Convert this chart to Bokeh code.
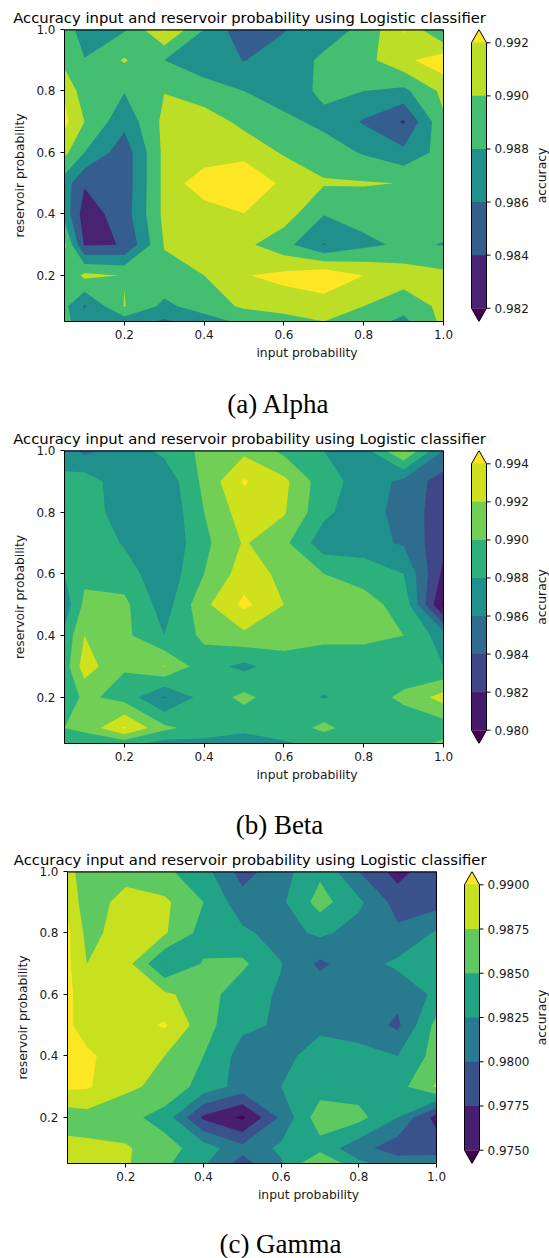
import math
import numpy as np
from bokeh.plotting import figure
from bokeh.layouts import column
from bokeh.models import Range1d, FixedTicker, PrintfTickFormatter, Plot
from bokeh.core.properties import value
from bokeh.palettes import Viridis256
from bokeh.embed import file_html
from bokeh.resources import INLINE

# grid of the sweep (both axes use the same probabilities)
input_prob = [0.05, 0.1, 0.2, 0.3, 0.4, 0.5, 0.6, 0.7, 0.8, 0.9, 1.0]
reservoir_prob = [0.05, 0.1, 0.2, 0.3, 0.4, 0.5, 0.6, 0.7, 0.8, 0.9, 1.0]
prob_ticks = [0.2, 0.4, 0.6, 0.8, 1.0]

# accuracy, one row per reservoir probability (1.0 first, 0.05 last),
# columns follow input_prob
alpha_acc = [
    [0.9893, 0.9868, 0.9878, 0.9922, 0.9880, 0.9845, 0.9859, 0.9870, 0.9885, 0.9921, 0.9875],
    [0.9893, 0.9881, 0.9902, 0.9880, 0.9868, 0.98595, 0.9868, 0.9884, 0.9893, 0.9915, 0.9933],
    [0.9918, 0.9888, 0.9881, 0.98995, 0.9889, 0.9880, 0.9870, 0.9884, 0.9880, 0.9875, 0.9905],
    [0.9925, 0.9900, 0.9866, 0.9905, 0.9910, 0.9895, 0.9885, 0.9875, 0.9858, 0.9838, 0.9897],
    [0.9905, 0.9880, 0.9848, 0.9905, 0.9905, 0.9912, 0.9898, 0.9890, 0.9878, 0.9865, 0.9888],
    [0.9870, 0.9842, 0.9848, 0.9905, 0.9935, 0.9940, 0.9915, 0.9902, 0.99015, 0.98995, 0.9893],
    [0.9872, 0.9830, 0.9850, 0.9905, 0.9908, 0.99195, 0.9910, 0.9881, 0.9888, 0.9890, 0.9890],
    [0.9905, 0.9838, 0.98405, 0.9901, 0.9910, 0.9905, 0.9887, 0.9859, 0.9875, 0.9884, 0.9879],
    [0.9880, 0.9905, 0.9899, 0.9895, 0.9900, 0.9919, 0.9925, 0.9935, 0.9920, 0.9910, 0.9905],
    [0.9885, 0.9858, 0.9901, 0.9875, 0.9890, 0.9903, 0.9910, 0.9910, 0.9900, 0.9888, 0.9905],
    [0.9885, 0.9870, 0.9870, 0.9857, 0.9870, 0.9885, 0.9890, 0.9900, 0.9890, 0.9875, 0.9905],
]

beta_acc = [
    [0.9870, 0.9855, 0.9868, 0.9885, 0.9905, 0.9915, 0.9895, 0.9880, 0.9872, 0.9922, 0.9860],
    [0.9885, 0.9890, 0.9868, 0.9866, 0.9905, 0.9942, 0.9925, 0.9888, 0.9872, 0.9855, 0.9830],
    [0.9885, 0.9895, 0.9866, 0.9862, 0.9900, 0.9930, 0.9922, 0.9885, 0.9866, 0.9855, 0.9826],
    [0.9885, 0.9895, 0.9878, 0.9862, 0.9895, 0.9922, 0.9905, 0.9868, 0.9866, 0.9858, 0.9824],
    [0.9880, 0.9895, 0.9890, 0.9865, 0.9900, 0.9930, 0.9915, 0.9900, 0.9895, 0.9880, 0.9815],
    [0.9868, 0.9905, 0.9905, 0.9870, 0.9915, 0.9945, 0.9920, 0.9910, 0.9905, 0.9895, 0.9795],
    [0.9885, 0.9920, 0.9905, 0.9880, 0.9905, 0.9915, 0.9910, 0.9905, 0.9905, 0.9900, 0.9870],
    [0.9890, 0.9930, 0.9902, 0.9921, 0.9888, 0.9875, 0.9890, 0.9888, 0.9888, 0.9885, 0.9880],
    [0.9885, 0.9905, 0.9892, 0.9858, 0.9888, 0.9905, 0.9888, 0.9879, 0.9888, 0.9905, 0.9928],
    [0.9900, 0.9905, 0.9942, 0.9905, 0.9890, 0.9885, 0.9888, 0.9905, 0.9888, 0.9885, 0.9888],
    [0.9885, 0.9888, 0.9888, 0.9872, 0.9875, 0.9870, 0.9878, 0.9885, 0.9888, 0.9888, 0.9905],
]

gamma_acc = [
    [0.9885, 0.9860, 0.9865, 0.9855, 0.9835, 0.9790, 0.9815, 0.9845, 0.9800, 0.9765, 0.9795],
    [0.9895, 0.9860, 0.9885, 0.9880, 0.9850, 0.9810, 0.9820, 0.9860, 0.9830, 0.9790, 0.9790],
    [0.9905, 0.9868, 0.9885, 0.9878, 0.9840, 0.9830, 0.9815, 0.9830, 0.9815, 0.9805, 0.9828],
    [0.9905, 0.9875, 0.9885, 0.9824, 0.9852, 0.9855, 0.9826, 0.9795, 0.9815, 0.9830, 0.9830],
    [0.9905, 0.9888, 0.9888, 0.9880, 0.9862, 0.9835, 0.9822, 0.9815, 0.9815, 0.9808, 0.9830],
    [0.9905, 0.9888, 0.9888, 0.9903, 0.9860, 0.9830, 0.9822, 0.9820, 0.9815, 0.9795, 0.9858],
    [0.9908, 0.9905, 0.9885, 0.9875, 0.9850, 0.9815, 0.9818, 0.9835, 0.9832, 0.9825, 0.9860],
    [0.9905, 0.9903, 0.9880, 0.9868, 0.9840, 0.9815, 0.9825, 0.9838, 0.9838, 0.9840, 0.9878],
    [0.9860, 0.9865, 0.9858, 0.9840, 0.9770, 0.9745, 0.9805, 0.9865, 0.9858, 0.9825, 0.9765],
    [0.9885, 0.9880, 0.9878, 0.9860, 0.9838, 0.9808, 0.9830, 0.9840, 0.9810, 0.9785, 0.9790],
    [0.9903, 0.9885, 0.9878, 0.9855, 0.9828, 0.9790, 0.9822, 0.9878, 0.9830, 0.9815, 0.9812],
]

alpha_levels = [0.982, 0.984, 0.986, 0.988, 0.990, 0.992]
beta_levels = [0.980, 0.982, 0.984, 0.986, 0.988, 0.990, 0.992, 0.994]
gamma_levels = [0.9750, 0.9775, 0.9800, 0.9825, 0.9850, 0.9875, 0.9900]

TITLE = "Accuracy input and reservoir probability using Logistic classifier"
SANS = "DejaVu Sans"
SERIF = "Liberation Serif"
TEXT = "#1a1a1a"
PAGE_W = 549
TOP = 29
MAIN_H = 375

# stop the column from lining up the frames of its plots when possible
INDEPENDENT = "frame_align" in Plot.properties()


def viridis(t):
    return Viridis256[min(max(int(t * 256), 0), 255)]


def band_colors(levels):
    """under colour, one colour per band, over colour (contourf-style)."""
    lo, hi = levels[0], levels[-1]
    mids = [(a + b) / 2 for a, b in zip(levels[:-1], levels[1:])]
    return [Viridis256[0]] + [viridis((m - lo) / (hi - lo)) for m in mids] + [Viridis256[-1]]


def style_axis(ax):
    ax.major_tick_out = 4
    ax.major_tick_in = 0
    ax.minor_tick_out = 0
    ax.minor_tick_in = 0
    ax.major_tick_line_color = "black"
    ax.major_tick_line_width = 1
    ax.axis_line_color = "black"
    ax.axis_line_width = 1
    ax.major_label_text_font = SANS
    ax.major_label_text_font_size = "12px"
    ax.major_label_text_color = TEXT
    ax.axis_label_text_font = SANS
    ax.axis_label_text_font_size = "12.3px"
    ax.axis_label_text_font_style = "normal"
    ax.axis_label_text_color = TEXT


def make_panel(rows, levels, tick_fmt, g):
    left = g["left"]
    x0, x1 = input_prob[0], input_prob[-1]
    y0, y1 = reservoir_prob[0], reservoir_prob[-1]
    # the frame runs to the right page edge so the colour bar lives inside it
    frame_w = PAGE_W - left
    plot_w = g["plot_right"] - left
    x_end = x0 + (x1 - x0) * frame_w / plot_w
    frame_h = g["frame_h"]

    p = figure(width=PAGE_W, height=MAIN_H,
               x_range=Range1d(x0, x_end), y_range=Range1d(y0, y1),
               output_backend="svg", toolbar_location=None,
               min_border_left=left, min_border_right=0,
               min_border_top=TOP, min_border_bottom=MAIN_H - TOP - frame_h)
    if INDEPENDENT:
        p.frame_align = False
    p.grid.visible = False
    p.outline_line_color = None
    p.background_fill_color = "white"
    p.border_fill_color = "white"

    p.title.text = TITLE
    p.title.text_font = SANS
    p.title.text_font_size = "14.8px"
    p.title.text_font_style = "normal"
    p.title.text_color = "black"
    p.title.align = "left"
    p.title.offset = g["title_left"] - left
    p.title.standoff = 8

    # filled contours, stacked from the lowest band upwards
    z = np.array(rows)[::-1]
    colors = band_colors(levels)
    floor = min(z.min(), levels[0]) - 1.0
    ceiling = max(z.max(), levels[-1]) + 1.0
    for lo, c in zip([floor] + list(levels), colors):
        p.contour(x=input_prob, y=reservoir_prob, z=z, levels=[lo, ceiling],
                  fill_color=c, line_color=None)

    # top and right spines of the axes box
    p.segment(x0=[x0], y0=[y1], x1=[x1], y1=[y1], line_color="black", line_width=2)
    p.segment(x0=[x1], y0=[y0], x1=[x1], y1=[y1], line_color="black", line_width=1)

    xa, ya = p.xaxis[0], p.yaxis[0]
    for ax in (xa, ya):
        style_axis(ax)
        ax.ticker = FixedTicker(ticks=prob_ticks)
        ax.formatter = PrintfTickFormatter(format="%.1f")
    xa.bounds = (x0, x1)
    xa.axis_label = "input probability"
    ya.axis_label = "reservoir probability"
    xa.major_label_standoff = 4
    xa.axis_label_standoff = 4
    ya.major_label_standoff = 5
    ya.axis_label_standoff = 6

    # colour bar with extension triangles, on its own pair of ranges
    ext = 0.05 * (levels[-1] - levels[0])
    cb_lo, cb_hi = levels[0] - ext, levels[-1] + ext
    cw = g["cbar_right"] - g["cbar_left"]
    p.extra_y_ranges = {"cb": Range1d(cb_lo, cb_hi)}
    p.extra_x_ranges = {"cbx": Range1d(-(g["cbar_left"] - left) / cw,
                                       (PAGE_W - g["cbar_left"]) / cw)}
    cb = dict(x_range_name="cbx", y_range_name="cb")
    nb = len(levels) - 1
    p.quad(left=[0] * nb, right=[1] * nb, bottom=levels[:-1], top=[levels[-1]] * nb,
           fill_color=colors[1:-1], line_color=None, **cb)
    p.patch(x=[0, 1, 0.5], y=[levels[-1], levels[-1], cb_hi], fill_color=colors[-1],
            line_color=None, **cb)
    p.patch(x=[0, 1, 0.5], y=[levels[0], levels[0], cb_lo], fill_color=colors[0],
            line_color=None, **cb)
    p.line(x=[0, 0, 0.5, 1, 1, 0.5, 0],
           y=[levels[0], levels[-1], cb_hi, levels[-1], levels[0], cb_lo, levels[0]],
           line_color="black", line_width=1, **cb)

    n = len(levels)
    p.segment(x0=[1] * n, y0=levels, x1=[1 + 4 / cw] * n, y1=levels,
              line_color="black", line_width=1, **cb)
    p.text(x=[1 + 8 / cw] * n, y=levels, text=[tick_fmt % v for v in levels],
           text_align="left", text_baseline="middle", text_font=value(SANS),
           text_font_size=value("12px"), text_color=TEXT, **cb)
    p.text(x=[(g["label_cx"] - g["cbar_left"]) / cw], y=[(cb_lo + cb_hi) / 2],
           text=["accuracy"], angle=math.pi / 2, text_align="center",
           text_baseline="middle", text_font=value(SANS),
           text_font_size=value("12.3px"), text_color=TEXT, **cb)
    return p


def make_caption(text, cx, height, cy, left):
    # x range in page pixels, y range in pixels from the top of the strip
    c = figure(width=PAGE_W, height=height, x_range=Range1d(left, PAGE_W),
               y_range=Range1d(height, 0), output_backend="svg", toolbar_location=None,
               title=None, x_axis_location=None, y_axis_location=None,
               min_border_left=left, min_border_right=0, min_border_top=0,
               min_border_bottom=0)
    if INDEPENDENT:
        c.frame_align = False
    c.grid.visible = False
    c.outline_line_color = None
    c.text(x=[cx], y=[cy], text=[text], text_align="center",
           text_baseline="middle", text_font=value(SERIF),
           text_font_size=value("27px"), text_color="black")
    return c


left_c = 67 if INDEPENDENT else 64
geo_ab = dict(left=64, plot_right=443, cbar_left=471, cbar_right=486,
              frame_h=292, title_left=12.7, label_cx=541)
geo_c = dict(left=left_c, plot_right=436, cbar_left=464, cbar_right=479,
             frame_h=292, title_left=13.3, label_cx=541)

pa = make_panel(alpha_acc, alpha_levels, "%.3f", geo_ab)
ca = make_caption("(a) Alpha", 278, 46, 28, 64)
pb = make_panel(beta_acc, beta_levels, "%.3f", dict(geo_ab, frame_h=293))
cb_ = make_caption("(b) Beta", 279, 46, 28, 64)
pc = make_panel(gamma_acc, gamma_levels, "%.4f", geo_c)
cc = make_caption("(c) Gamma", 280, 41, 26, 64)

layout = column(pa, ca, pb, cb_, pc, cc, spacing=0)
with open("out.html", "w") as f:
    f.write(file_html(layout, INLINE, title="Logistic classifier accuracy"))
